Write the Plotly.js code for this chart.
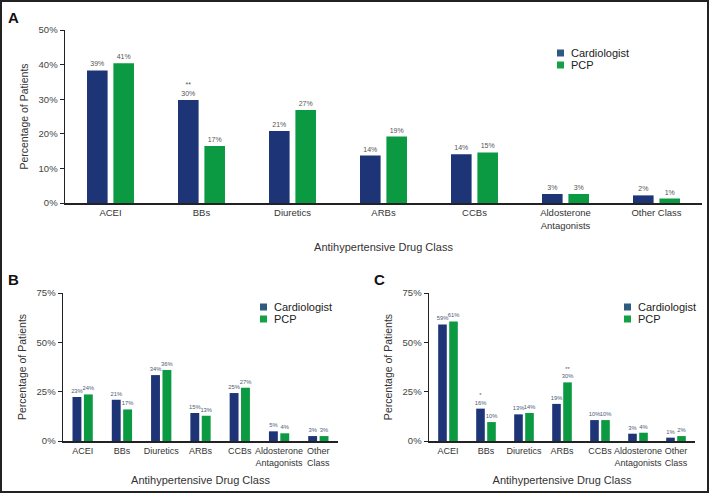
<!DOCTYPE html>
<html><head><meta charset="utf-8">
<script src="https://cdn.plot.ly/plotly-3.0.1.min.js"></script>
<style>html,body{margin:0;padding:0;background:#fff}#chart{width:709px;height:493px}</style>
</head><body><div id="chart"></div><script>
// Panel categories
const catsA = ['ACEI','BBs','Diuretics','ARBs','CCBs','Aldosterone<br>Antagonists','Other Class'];
const catsBC = ['ACEI','BBs','Diuretics','ARBs','CCBs','Aldosterone<br>Antagonists','Other<br>Class'];
// Panel A
const cardioA = [38.3, 29.8, 20.8, 13.7, 14.1, 2.6, 2.2];
const pcpA    = [40.4, 16.5, 26.9, 19.2, 14.6, 2.6, 1.3];
const cardioALabels = ['39%','**<br>30%','21%','14%','14%','3%','2%'];
const pcpALabels    = ['41%','17%','27%','19%','15%','3%','1%'];
// Panel B
const cardioB = [22.3, 20.9, 33.4, 14.2, 24.3, 4.9, 2.5];
const pcpB    = [23.6, 16.0, 36.0, 12.8, 27.0, 3.9, 2.5];
const cardioBLabels = ['23%','21%','34%','15%','25%','5%','3%'];
const pcpBLabels    = ['24%','17%','36%','13%','27%','4%','3%'];
// Panel C
const cardioC = [59.1, 16.4, 13.5, 18.8, 10.6, 3.7, 1.7];
const pcpC    = [60.6, 9.6, 14.2, 29.7, 10.6, 4.2, 2.5];
const cardioCLabels = ['59%','*<br>16%','13%','19%','10%','3%','1%'];
const pcpCLabels    = ['61%','10%','14%','**<br>30%','10%','4%','2%'];
const seriesNames = ['Cardiologist','PCP'];

const navy = '#1d3476', green = '#0b9a41';
const swatchColors = ['#2f5b80', '#13a047'];
const FONT = 'Liberation Sans, Arial, sans-serif';

function bar(x, y, txt, name, color, xa, ya, tcolor, tsize){
  return {type:'bar', x:x, y:y, text:txt, name:name, xaxis:xa, yaxis:ya, showlegend:false,
    marker:{color:color}, textposition:'outside', cliponaxis:false, constraintext:'none',
    textfont:{size:tsize, color:tcolor, family:FONT}, hoverinfo:'skip'};
}
const data = [
  bar(catsA, cardioA, cardioALabels, seriesNames[0], navy, 'x', 'y', '#555', 7),
  bar(catsA, pcpA, pcpALabels, seriesNames[1], green, 'x', 'y', '#555', 7),
  bar(catsBC, cardioB, cardioBLabels, seriesNames[0], navy, 'x2', 'y2', '#4d5b75', 5.8),
  bar(catsBC, pcpB, pcpBLabels, seriesNames[1], green, 'x2', 'y2', '#4d5b75', 5.8),
  bar(catsBC, cardioC, cardioCLabels, seriesNames[0], navy, 'x3', 'y3', '#4d5b75', 5.8),
  bar(catsBC, pcpC, pcpCLabels, seriesNames[1], green, 'x3', 'y3', '#4d5b75', 5.8)
];

const W = 709, H = 493;
const px = v => v / W, py = v => 1 - v / H;

function xax(d0, d1, anchor, tfs, standoff){
  return {domain:[px(d0), px(d1)], anchor:anchor, type:'category', showline:true, linecolor:'#222', linewidth:2,
    ticks:'', showgrid:false, zeroline:false, tickangle:0, tickfont:{size:tfs, color:'#333', family:FONT},
    title:{text:'Antihypertensive Drug Class', font:{size:11, color:'#333', family:FONT}, standoff:standoff},
    automargin:false, fixedrange:true};
}
function yax(top, bot, range, dtick, anchor){
  return {domain:[py(bot), py(top)], anchor:anchor, range:range, dtick:dtick, ticksuffix:'%',
    showline:true, linecolor:'#222', linewidth:1.5, ticks:'outside', ticklen:4, tickcolor:'#222',
    showgrid:false, zeroline:false, tickfont:{size:9.5, color:'#444', family:FONT},
    title:{text:'Percentage of Patients', font:{size:10.5, color:'#333', family:FONT}, standoff:8},
    automargin:false, fixedrange:true};
}

// manual legends: [swatch left x, first row center y]
const legendPos = [[557, 53], [260, 307], [624, 307]];
const shapes = [
  {type:'rect', xref:'paper', yref:'paper', x0:px(1), x1:px(708), y0:py(492), y1:py(1), line:{color:'#222', width:2}, fillcolor:'rgba(0,0,0,0)'}
];
const annotations = [
  {text:'<b>A</b>', x:px(6), y:py(7), xref:'paper', yref:'paper', xanchor:'left', yanchor:'top', showarrow:false, font:{size:15, color:'#111', family:FONT}},
  {text:'<b>B</b>', x:px(6), y:py(269), xref:'paper', yref:'paper', xanchor:'left', yanchor:'top', showarrow:false, font:{size:15, color:'#111', family:FONT}},
  {text:'<b>C</b>', x:px(372), y:py(269), xref:'paper', yref:'paper', xanchor:'left', yanchor:'top', showarrow:false, font:{size:15, color:'#111', family:FONT}}
];
legendPos.forEach(([lx, ly]) => {
  seriesNames.forEach((nm, i) => {
    const cy = ly + i * 12;
    shapes.push({type:'rect', xref:'paper', yref:'paper', x0:px(lx), x1:px(lx + 7), y0:py(cy + 3.5), y1:py(cy - 3.5),
      line:{width:0}, fillcolor:swatchColors[i]});
    annotations.push({text:nm, x:px(lx + 12), y:py(cy), xref:'paper', yref:'paper', xanchor:'left', yanchor:'middle',
      showarrow:false, font:{size:11, color:'#222', family:FONT}});
  });
});

const layout = {
  width:W, height:H, margin:{l:0, r:0, t:0, b:0},
  paper_bgcolor:'#fff', plot_bgcolor:'#fff', font:{family:FONT},
  barmode:'group', bargap:0.42, bargroupgap:0.22, showlegend:false,
  xaxis: xax(65, 702, 'y', 9.5, 14),
  yaxis: yax(30, 203, [0,50], 10, 'x'),
  xaxis2: xax(63, 338, 'y2', 9, 10),
  yaxis2: yax(293, 441, [0,75], 25, 'x2'),
  xaxis3: xax(429, 695, 'y3', 9, 10),
  yaxis3: yax(293, 441, [0,75], 25, 'x3'),
  annotations: annotations,
  shapes: shapes
};
Plotly.newPlot('chart', data, layout, {staticPlot:true, displayModeBar:false});
</script></body></html>
